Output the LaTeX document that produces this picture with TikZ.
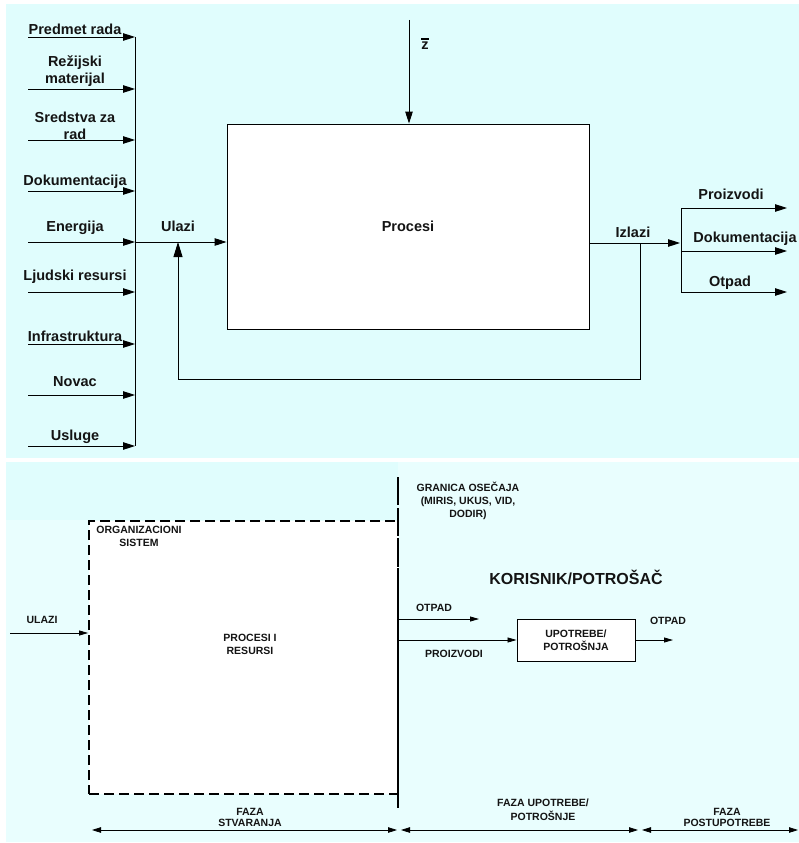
\documentclass[tikz,border=0pt]{standalone}
\usepackage{fontspec}
\setmainfont{Liberation Sans}
\usepackage{tikz}
\usetikzlibrary{calc, positioning, arrows.meta}
\definecolor{panelCyan}{HTML}{E0FDFD}
\definecolor{panelLight}{HTML}{E9FEFE}
\definecolor{textDark}{HTML}{141414}

\tikzset{
  bigLabel/.style={font=\bfseries\fontsize{14.5}{17}\selectfont, text=textDark, align=center, inner sep=0pt},
  smallLabel/.style={font=\bfseries\fontsize{10.5}{13}\selectfont, text=textDark, align=center, inner sep=0pt},
  flowArrow/.style={line width=0.9pt, -{Triangle[length=12pt,width=7.5pt]}},
  fbArrow/.style={line width=0.9pt, -{Triangle[length=15pt,width=9pt]}},
  smallArrow/.style={line width=0.8pt, -{Triangle[length=9pt,width=5pt]}},
  phaseArrow/.style={line width=0.8pt, {Triangle[length=9pt,width=5.5pt]}-{Triangle[length=9pt,width=5.5pt]}},
  procBox/.style={draw, fill=white, line width=0.9pt, minimum width=362pt, minimum height=205pt, bigLabel},
  orgBox/.style={draw, fill=white, line width=1.8pt, dash pattern=on 10pt off 5pt, minimum width=309pt, minimum height=273pt},
  useBox/.style={draw, fill=white, line width=0.9pt, minimum width=118pt, minimum height=42pt, smallLabel}
}

\begin{document}
\begin{tikzpicture}[x=1pt, y=-1pt]
  \useasboundingbox (0,0) rectangle (799,843);
  % panels
  \fill[panelCyan] (6,4) rectangle (799,458);
  \fill[panelLight] (6,462) rectangle (799,842);
  \fill[panelCyan] (6,462) rectangle (398,520);

  % inputs on the bus
  \foreach \ay/\ly/\txt [count=\i] in {37/29/{Predmet rada}, 89/71.5/{Režijski\\materijal}, 140/126/{Sredstva za\\rad}, 191/182/Dokumentacija, 242/228/Energija, 292/277/{Ljudski resursi}, 344/336/Infrastruktura, 395/382/Novac, 446/437/Usluge}{
    \coordinate (src\i) at (28,\ay);
    \coordinate (bus\i) at (135,\ay);
    \draw[flowArrow] (src\i) -- (bus\i);
    \node[bigLabel] (lbl\i) at (75,\ly) {\txt};
  }
  \draw[line width=0.9pt] (bus1) -- (bus9);

  % process
  \node[procBox] (procesi) at (408,226.5) {Procesi};
  \coordinate (ulaziStart) at (135,242);
  \draw[flowArrow] (ulaziStart) -- (ulaziStart -| procesi.west);
  \node[bigLabel] (ulazi) at (178,226) {Ulazi};

  \coordinate (zTop) at (409,20);
  \draw[flowArrow] (zTop) -- (zTop |- procesi.north);
  \node[bigLabel] (zLbl) at (425,46) {z};
  \draw[line width=1.4pt] ([yshift=3pt]zLbl.north west) -- ([yshift=3pt]zLbl.north east);

  \coordinate (izlEnd) at (680,243);
  \draw[flowArrow] (izlEnd -| procesi.east) -- (izlEnd);
  \node[bigLabel] (izlazi) at (633,232) {Izlazi};

  % outputs
  \coordinate (brTop) at (681,208);
  \coordinate (brBot) at (681,292);
  \draw[line width=0.9pt] (brTop) -- (brBot);
  \foreach \oy/\lx/\ly/\txt [count=\j] in {208/731/194/Proizvodi, 251/745/239/Dokumentacija, 292/730/283/Otpad}{
    \coordinate (outS\j) at (681,\oy);
    \coordinate (outE\j) at (787,\oy);
    \draw[flowArrow] (outS\j) -- (outE\j);
    \node[bigLabel] (outLbl\j) at (\lx,\ly) {\txt};
  }

  % feedback
  \coordinate (fbStart) at (640,243);
  \coordinate (fbCorner) at (178,379);
  \draw[fbArrow] (fbStart) -- (fbStart |- fbCorner) -- (fbCorner) -- (fbCorner |- ulaziStart);

  % lower panel
  \node[orgBox] (orgSys) at (243.5,657.5) {};
  \coordinate (bndTop) at (398,477);
  \coordinate (bndBot) at (398,808);
  \draw[line width=1.8pt, dash pattern=on 28pt off 3pt] (bndTop) -- (bndBot);

  \node[smallLabel] (orgLbl) at (139,536.5) {ORGANIZACIONI\\SISTEM};
  \node[smallLabel] (procRes) at (250,644.5) {PROCESI I\\RESURSI};

  \coordinate (ulaziB) at (10,633);
  \draw[smallArrow] (ulaziB) -- (ulaziB -| orgSys.west);
  \node[smallLabel] (ulaziLbl) at (42,620) {ULAZI};

  \node[smallLabel] (granica) at (468,500.5) {GRANICA OSEČAJA\\(MIRIS, UKUS, VID,\\DODIR)};
  \node[font=\bfseries\fontsize{16}{18}\selectfont, text=textDark, inner sep=0pt] (korisnik) at (576,577) {KORISNIK/POTROŠAČ};

  \node[useBox] (upotreba) at (576,640) {UPOTREBE/\\POTROŠNJA};
  \coordinate (otpadEnd) at (479,619);
  \draw[smallArrow] (otpadEnd -| bndTop) -- (otpadEnd);
  \node[smallLabel] (otpadLbl) at (434,608) {OTPAD};
  \draw[smallArrow] (bndTop |- upotreba.west) -- (upotreba.west);
  \node[smallLabel] (proizLbl) at (454,654) {PROIZVODI};
  \coordinate (otpadOut) at (673,640);
  \draw[smallArrow] (upotreba.east) -- (otpadOut);
  \node[smallLabel] (otpadOutLbl) at (668,621) {OTPAD};

  % phases
  \coordinate (phA1) at (92,830);
  \coordinate (phA2) at (397,830);
  \coordinate (phB1) at (401,830);
  \coordinate (phB2) at (638,830);
  \coordinate (phC1) at (642,830);
  \coordinate (phC2) at (798,830);
  \draw[phaseArrow] (phA1) -- (phA2);
  \draw[phaseArrow] (phB1) -- (phB2);
  \draw[phaseArrow] (phC1) -- (phC2);
  \node[smallLabel, font=\bfseries\fontsize{10.5}{11.5}\selectfont] (fazaStv) at (250,817.5) {FAZA\\STVARANJA};
  \node[smallLabel, font=\bfseries\fontsize{10.5}{14}\selectfont] (fazaUpo) at (543,810) {FAZA UPOTREBE/\\POTROŠNJE};
  \node[smallLabel, font=\bfseries\fontsize{10.5}{11.5}\selectfont] (fazaPost) at (727,817.5) {FAZA\\POSTUPOTREBE};
\end{tikzpicture}
\end{document}
